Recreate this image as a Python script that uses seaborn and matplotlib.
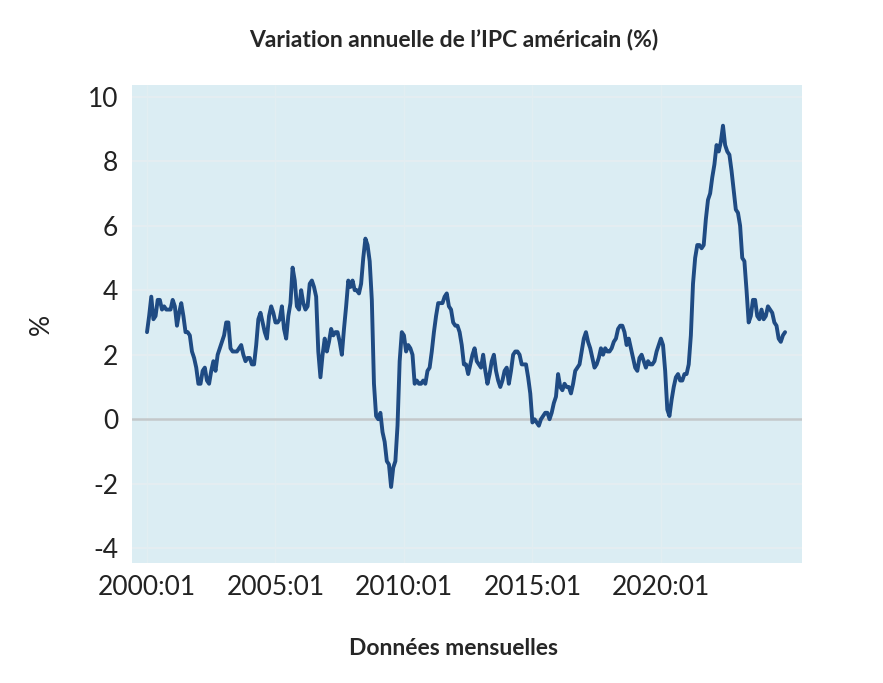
import matplotlib
matplotlib.use("Agg")
import matplotlib.pyplot as plt
import seaborn as sns
import pandas as pd
import numpy as np

# US CPI, year-over-year change (%), monthly from 2000:01
cpi_2000 = [2.7, 3.2, 3.8, 3.1, 3.2, 3.7, 3.7, 3.4, 3.5, 3.4, 3.4, 3.4]
cpi_2001 = [3.7, 3.5, 2.9, 3.3, 3.6, 3.2, 2.7, 2.7, 2.6, 2.1, 1.9, 1.6]
cpi_2002 = [1.1, 1.1, 1.5, 1.6, 1.2, 1.1, 1.5, 1.8, 1.5, 2.0, 2.2, 2.4]
cpi_2003 = [2.6, 3.0, 3.0, 2.2, 2.1, 2.1, 2.1, 2.2, 2.3, 2.0, 1.8, 1.9]
cpi_2004 = [1.9, 1.7, 1.7, 2.3, 3.1, 3.3, 3.0, 2.7, 2.5, 3.2, 3.5, 3.3]
cpi_2005 = [3.0, 3.0, 3.1, 3.5, 2.8, 2.5, 3.2, 3.6, 4.7, 4.3, 3.5, 3.4]
cpi_2006 = [4.0, 3.6, 3.4, 3.5, 4.2, 4.3, 4.1, 3.8, 2.1, 1.3, 2.0, 2.5]
cpi_2007 = [2.1, 2.4, 2.8, 2.6, 2.7, 2.7, 2.4, 2.0, 2.8, 3.5, 4.3, 4.1]
cpi_2008 = [4.3, 4.0, 4.0, 3.9, 4.2, 5.0, 5.6, 5.4, 4.9, 3.7, 1.1, 0.1]
cpi_2009 = [0.0, 0.2, -0.4, -0.7, -1.3, -1.4, -2.1, -1.5, -1.3, -0.2, 1.8, 2.7]
cpi_2010 = [2.6, 2.1, 2.3, 2.2, 2.0, 1.1, 1.2, 1.1, 1.1, 1.2, 1.1, 1.5]
cpi_2011 = [1.6, 2.1, 2.7, 3.2, 3.6, 3.6, 3.6, 3.8, 3.9, 3.5, 3.4, 3.0]
cpi_2012 = [2.9, 2.9, 2.7, 2.3, 1.7, 1.7, 1.4, 1.7, 2.0, 2.2, 1.8, 1.7]
cpi_2013 = [1.6, 2.0, 1.5, 1.1, 1.4, 1.8, 2.0, 1.5, 1.2, 1.0, 1.2, 1.5]
cpi_2014 = [1.6, 1.1, 1.5, 2.0, 2.1, 2.1, 2.0, 1.7, 1.7, 1.7, 1.3, 0.8]
cpi_2015 = [-0.1, 0.0, -0.1, -0.2, 0.0, 0.1, 0.2, 0.2, 0.0, 0.2, 0.5, 0.7]
cpi_2016 = [1.4, 1.0, 0.9, 1.1, 1.0, 1.0, 0.8, 1.1, 1.5, 1.6, 1.7, 2.1]
cpi_2017 = [2.5, 2.7, 2.4, 2.2, 1.9, 1.6, 1.7, 1.9, 2.2, 2.0, 2.2, 2.1]
cpi_2018 = [2.1, 2.2, 2.4, 2.5, 2.8, 2.9, 2.9, 2.7, 2.3, 2.5, 2.2, 1.9]
cpi_2019 = [1.6, 1.5, 1.9, 2.0, 1.8, 1.6, 1.8, 1.7, 1.7, 1.8, 2.1, 2.3]
cpi_2020 = [2.5, 2.3, 1.5, 0.3, 0.1, 0.6, 1.0, 1.3, 1.4, 1.2, 1.2, 1.4]
cpi_2021 = [1.4, 1.7, 2.6, 4.2, 5.0, 5.4, 5.4, 5.3, 5.4, 6.2, 6.8, 7.0]
cpi_2022 = [7.5, 7.9, 8.5, 8.3, 8.6, 9.1, 8.5, 8.3, 8.2, 7.7, 7.1, 6.5]
cpi_2023 = [6.4, 6.0, 5.0, 4.9, 4.0, 3.0, 3.2, 3.7, 3.7, 3.2, 3.1, 3.4]
cpi_2024 = [3.1, 3.2, 3.5, 3.4, 3.3, 3.0, 2.9, 2.5, 2.4, 2.6, 2.7]

tick_labels = ["2000:01", "2005:01", "2010:01", "2015:01", "2020:01"]
y_ticks = [-4, -2, 0, 2, 4, 6, 8, 10]

values = (cpi_2000 + cpi_2001 + cpi_2002 + cpi_2003 + cpi_2004 + cpi_2005
          + cpi_2006 + cpi_2007 + cpi_2008 + cpi_2009 + cpi_2010 + cpi_2011
          + cpi_2012 + cpi_2013 + cpi_2014 + cpi_2015 + cpi_2016 + cpi_2017
          + cpi_2018 + cpi_2019 + cpi_2020 + cpi_2021 + cpi_2022 + cpi_2023
          + cpi_2024)
df = pd.DataFrame({"month": np.arange(len(values)), "cpi": values})

sns.set_style("white")
plt.rcParams["font.family"] = ["Lato", "DejaVu Sans"]
plt.rcParams["axes.unicode_minus"] = False

fig = plt.figure(figsize=(8.83, 6.83), dpi=100)
ax = fig.add_axes([0.1495, 0.176, 0.759, 0.699])
ax.set_facecolor("#DBEDF3")

for y in y_ticks:
    if y != 0:
        ax.axhline(y, color="#E6EEF1", lw=1.2, zorder=1)
for i in range(len(tick_labels)):
    ax.axvline(i * 60, color="#E2EEF2", lw=1.0, zorder=1)
ax.axhline(0, color="#C4C8CA", lw=1.8, zorder=2)

sns.lineplot(data=df, x="month", y="cpi", ax=ax, color="#1F4B83",
             lw=2.8, zorder=3)

ax.set_xlim(-7, 306)
ax.set_ylim(-4.45, 10.35)
ax.set_xticks([i * 60 for i in range(len(tick_labels))])
ax.set_xticklabels(tick_labels)
ax.set_yticks(y_ticks)
ax.tick_params(axis="both", length=0, labelsize=19, colors="#222222")
ax.tick_params(axis="x", pad=9)
ax.tick_params(axis="y", pad=10)
for s in ax.spines.values():
    s.set_visible(False)

ax.set_xlabel("")
ax.set_ylabel("%", fontsize=19, color="#222222", labelpad=24)

fig.text(0.514, 0.942, "Variation annuelle de l\u2019IPC américain (%)",
         ha="center", va="center", fontsize=16.5, fontweight="bold")
fig.text(0.514, 0.051, "Données mensuelles",
         ha="center", va="center", fontsize=16.5, fontweight="bold")

fig.savefig("out.png", dpi=100)
